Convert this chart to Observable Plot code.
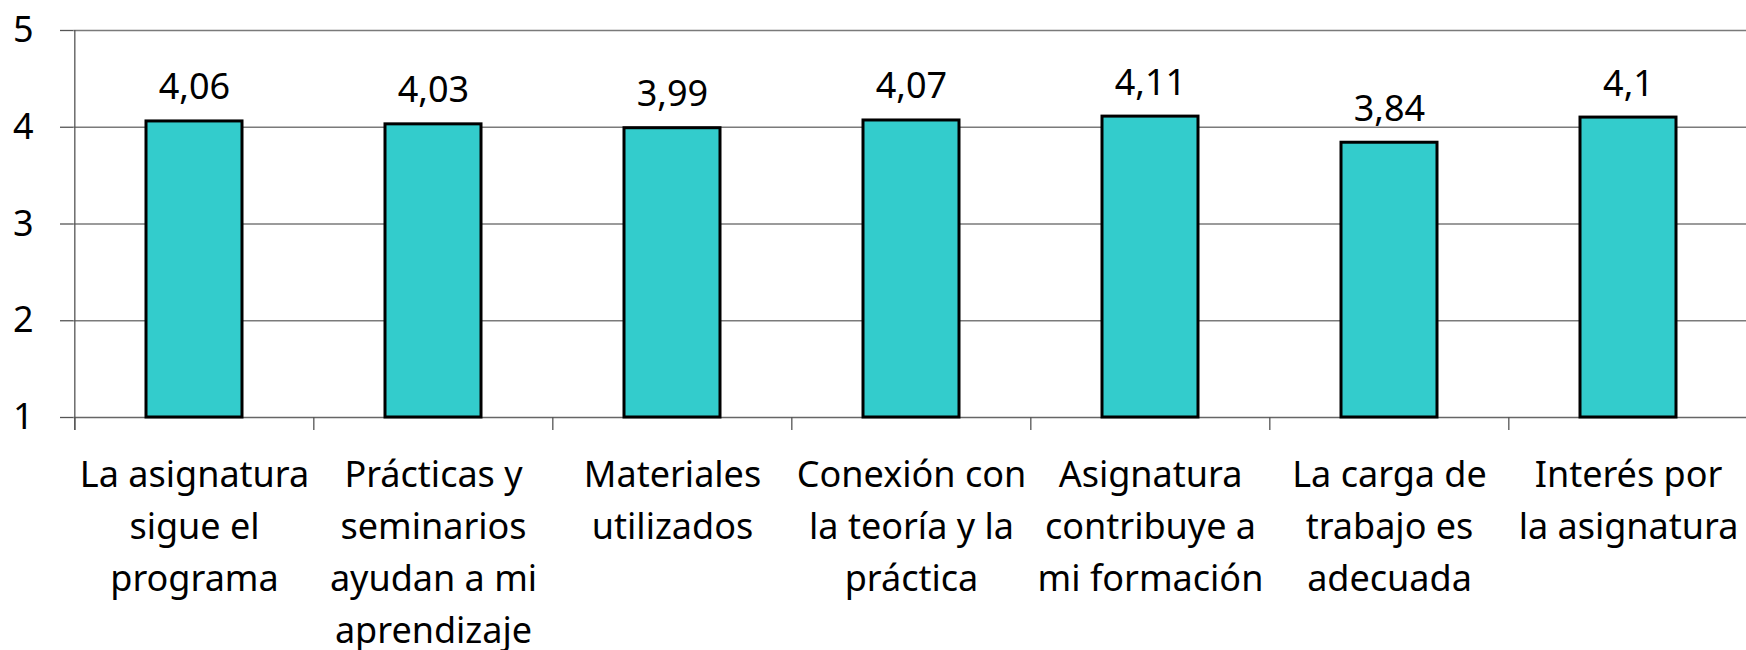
<!DOCTYPE html>
<html>
<head>
<meta charset="utf-8">
<script src="https://cdn.jsdelivr.net/npm/d3@7"></script>
<script src="https://cdn.jsdelivr.net/npm/@observablehq/plot@0.6"></script>
<style>
  html, body { margin: 0; padding: 0; background: #fff; }
  #chart svg { display: block; }
</style>
</head>
<body>
<div id="chart"></div>
<script>
const categories = [
  "La asignatura sigue el programa",
  "Prácticas y seminarios ayudan a mi aprendizaje",
  "Materiales utilizados",
  "Conexión con la teoría y la práctica",
  "Asignatura contribuye a mi formación",
  "La carga de trabajo es adecuada",
  "Interés por la asignatura"
];
const tickLabels = [
  "La asignatura\nsigue el\nprograma",
  "Prácticas y\nseminarios\nayudan a mi\naprendizaje",
  "Materiales\nutilizados",
  "Conexión con\nla teoría y la\npráctica",
  "Asignatura\ncontribuye a\nmi formación",
  "La carga de\ntrabajo es\nadecuada",
  "Interés por\nla asignatura"
];
const values = [4.06, 4.03, 3.99, 4.07, 4.11, 3.84, 4.1];
const yTicks = [1, 2, 3, 4, 5];
const gridValues = [2, 3, 4, 5];

const data = categories.map((c, i) => ({category: c, value: values[i]}));

const W = 1746, H = 650;
const mLeft = 73.5, mTop = 30, mBottom = 233;
const xRange = [73.5, 1749];
const step = (xRange[1] - xRange[0]) / categories.length;
const font = "'Noto Sans', sans-serif";
const fmt = (v) => String(v).replace(".", ",");

const chart = Plot.plot({
  width: W,
  height: H,
  marginLeft: mLeft,
  marginRight: 0,
  marginTop: mTop,
  marginBottom: mBottom,
  style: {fontFamily: font, fontSize: "36px", color: "#000", background: "#fff"},
  x: {type: "band", domain: categories, range: xRange, paddingInner: 0.6, paddingOuter: 0.3, align: 0.5, label: null},
  y: {domain: [1, 5], range: [H - mBottom, mTop], label: null},
  marks: [
    Plot.ruleY(gridValues, {stroke: "#7a7a7a", strokeWidth: 1.5}),
    Plot.ruleY([1], {stroke: "#666", strokeWidth: 1.5}),
    // y axis line
    Plot.ruleX([categories[0]], {x: (d) => d, dx: -step / 2, stroke: "#555", strokeWidth: 1.3, insetBottom: -13}),
    // category boundary ticks
    Plot.ruleX(categories, {x: (d) => d, dx: -step / 2, y1: 1, y2: 1, insetBottom: -13, stroke: "#555", strokeWidth: 1.3}),
    Plot.barY(data, {x: "category", y1: 1, y2: "value", fill: "#33CCCC", stroke: "#000", strokeWidth: 3}),
    Plot.text(data, {x: "category", y: "value", text: (d) => fmt(d.value), dy: -22, lineAnchor: "bottom", fontSize: 36, fill: "#000"}),
    Plot.axisY(yTicks, {label: null, tickSize: 13.5, tickPadding: 27, fontSize: 36, stroke: "#555", strokeWidth: 1.3, tickFormat: (d) => String(d), fill: "#000"}),
    Plot.axisX({label: null, tickSize: 0, tickPadding: 33, fontSize: 36, lineHeight: 1.444, fill: "#000",
      tickFormat: (d) => tickLabels[categories.indexOf(d)]})
  ]
});
document.getElementById("chart").appendChild(chart);
</script>
</body>
</html>
